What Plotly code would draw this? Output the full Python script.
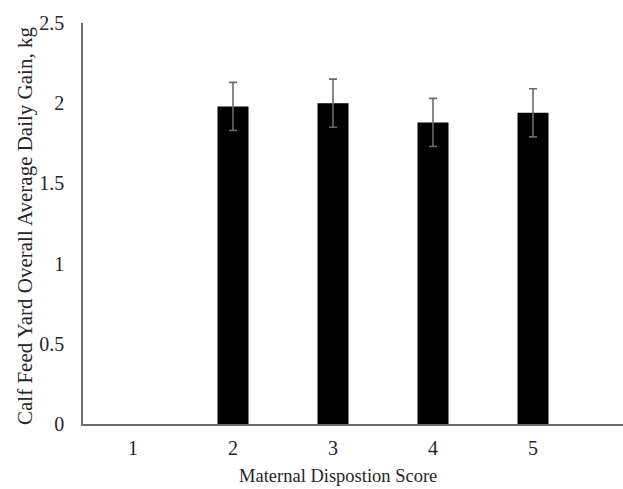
import plotly.graph_objects as go

categories = [1, 2, 3, 4, 5]
adg_values = [None, 1.98, 2.00, 1.88, 1.94]
adg_errors = [None, 0.15, 0.15, 0.15, 0.15]
y_ticks = [0, 0.5, 1, 1.5, 2, 2.5]
y_tick_labels = ["0", "0.5", "1", "1.5", "2", "2.5"]
x_title = "Maternal Dispostion Score"
y_title = "Calf Feed Yard Overall Average Daily Gain, kg"

font_family = "Liberation Serif, Times New Roman, serif"
text_color = "#262626"

fig = go.Figure()
fig.add_trace(go.Bar(
    x=categories,
    y=adg_values,
    width=0.31,
    marker=dict(color="#000000", line=dict(width=0)),
    error_y=dict(type="data", array=adg_errors, visible=True,
                 color="#6b6b6b", thickness=1.6, width=4),
))

fig.update_layout(
    width=623, height=489,
    margin=dict(l=83, r=0, t=23, b=65),
    paper_bgcolor="white", plot_bgcolor="white",
    showlegend=False,
    font=dict(family=font_family, size=20, color=text_color),
    xaxis=dict(
        range=[0.5, 5.9],
        tickvals=categories,
        ticktext=[str(c) for c in categories],
        showline=True, linecolor="#6b6b6b", linewidth=1.5,
        showgrid=False, zeroline=False, ticks="",
        ticklabelstandoff=5,
        tickfont=dict(size=20),
    ),
    yaxis=dict(
        range=[0, 2.5],
        tickvals=y_ticks,
        ticktext=y_tick_labels,
        showline=True, linecolor="#6b6b6b", linewidth=1.5,
        showgrid=False, zeroline=False, ticks="",
        ticklabelstandoff=13,
        tickfont=dict(size=20),
    ),
    annotations=[
        dict(text=x_title, xref="paper", yref="paper",
             x=(338 - 83) / 540, y=-(476 - 424) / 401,
             xanchor="center", yanchor="middle", showarrow=False,
             font=dict(size=18.5, family=font_family, color=text_color)),
        dict(text=y_title, xref="paper", yref="paper",
             x=(25 - 83) / 540, y=(424 - 226) / 401,
             xanchor="center", yanchor="middle", showarrow=False,
             textangle=-90,
             font=dict(size=21, family=font_family, color=text_color)),
    ],
)

fig.write_html("out.html")
